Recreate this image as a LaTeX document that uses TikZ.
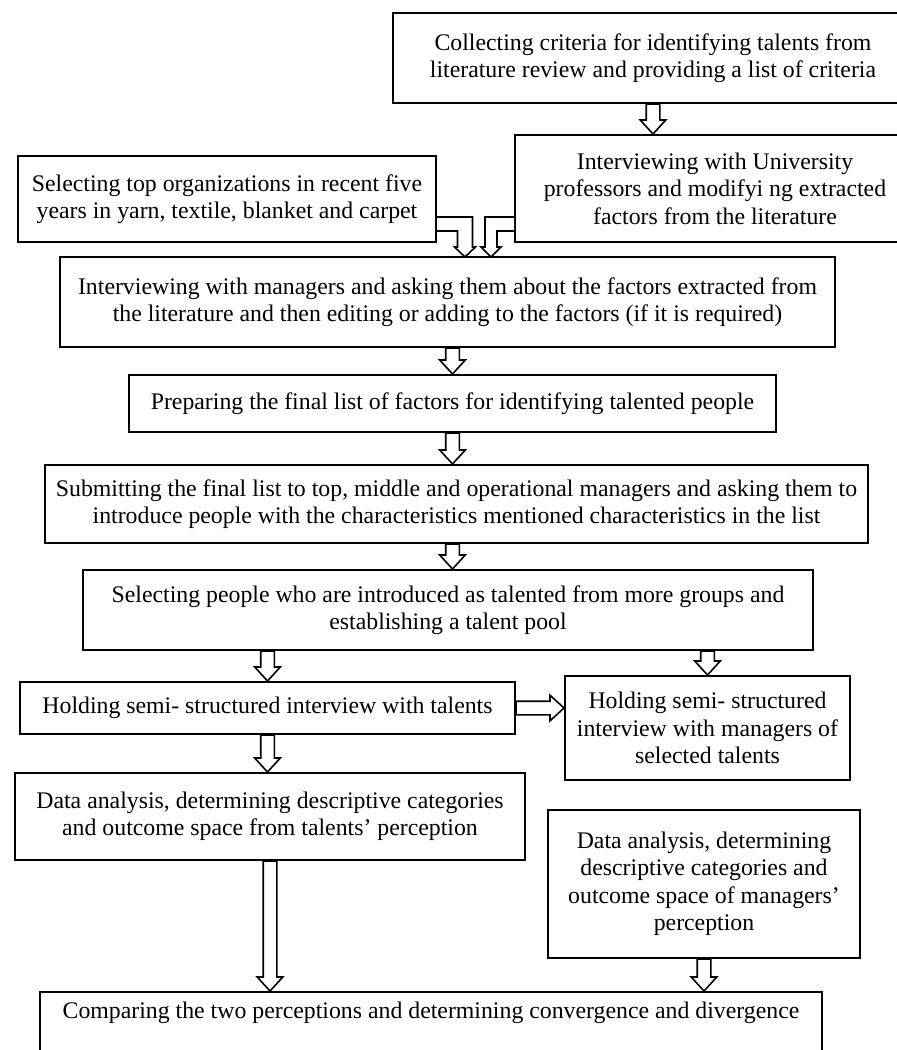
\documentclass[tikz,border=0pt]{standalone}
\usepackage{fontspec}
\setmainfont{Liberation Serif}
\usetikzlibrary{calc,positioning}

\tikzset{
  stage/.style={draw, line width=1pt, align=center, inner sep=0pt,
    font=\fontsize{11.9}{13.75}\selectfont},
  hollow/.style={draw, line width=.8pt, line join=miter, fill=white},
  harrow/.style={to path={
    let \p1=(\tikztostart), \p2=(\tikztotarget),
        \n1={atan2(\y2-\y1,\x2-\x1)}, \n2={veclen(\x2-\x1,\y2-\y1)-7}
    in {[shift={(\p1)}, rotate=\n1]
      (0pt,3.4pt) -- (\n2,3.4pt) -- (\n2,6.4pt) -- (\n2+7pt,0pt)
      -- (\n2,-6.4pt) -- (\n2,-3.4pt) -- (0pt,-3.4pt) -- cycle}
  }}
}

\begin{document}
\begin{tikzpicture}[x=0.5pt, y=-0.5pt]
  \useasboundingbox (0,0) rectangle (897,1050);

  \node[stage, minimum width=260pt, minimum height=45pt] (crit) at (653,58)
    {Collecting criteria for identifying talents from\\literature review and providing a list of criteria};
  \node[stage, minimum width=200pt, minimum height=53.5pt] (prof) at (715,188.5)
    {Interviewing with University\\professors and modifyi ng extracted\\factors from the literature};
  \node[stage, minimum width=209pt, minimum height=43pt] (orgs) at (227,199)
    {Selecting top organizations in recent five\\years in yarn, textile, blanket and carpet};
  \node[stage, minimum width=387.5pt, minimum height=45pt] (mgrs) at (447.5,302)
    {Interviewing with managers and asking them about the factors extracted from\\the literature and then editing or adding to the factors (if it is required)};
  \node[stage, minimum width=323.5pt, minimum height=28.5pt] (final) at (452.5,403.5)
    {Preparing the final list of factors for identifying talented people};
  \node[stage, minimum width=411.5pt, minimum height=39pt] (submit) at (456.5,504)
    {Submitting the final list to top, middle and operational managers and asking them to\\introduce people with the characteristics mentioned characteristics in the list};
  \node[stage, minimum width=365pt, minimum height=40pt] (pool) at (448,610)
    {Selecting people who are introduced as talented from more groups and\\establishing a talent pool};
  \node[stage, minimum width=247.5pt, minimum height=26pt] (intT) at (267.5,708)
    {Holding semi- structured interview with talents};
  \node[stage, minimum width=142.5pt, minimum height=52pt] (intM) at (707.5,728)
    {Holding semi- structured\\interview with managers of\\selected talents};
  \node[stage, minimum width=255pt, minimum height=43.5pt] (anaT) at (270,816.5)
    {Data analysis, determining descriptive categories\\and outcome space from talents' perception};
  \node[stage, minimum width=156pt, minimum height=74pt] (anaM) at (704,884)
    {Data analysis, determining\\descriptive categories and\\outcome space of managers'\\perception};
  \node[stage, anchor=base, minimum width=391pt, text height=13pt, text depth=27pt] (comp) at (431,1018)
    {Comparing the two perceptions and determining convergence and divergence};

  % straight arrows
  \draw[hollow] (crit.south) to[harrow] (crit.south |- prof.north);
  \draw[hollow] (mgrs.south -| final.north) to[harrow] (final.north);
  \draw[hollow] (final.south) to[harrow] (final.south |- submit.north);
  \draw[hollow] (submit.south -| final.south) to[harrow] (pool.north -| final.south);
  \draw[hollow] (pool.south -| intT.north) to[harrow] (intT.north);
  \draw[hollow] (pool.south -| intM.north) to[harrow] (intM.north);
  \draw[hollow] (intT.east) to[harrow] (intM.west |- intT.east);
  \draw[hollow] (intT.south) to[harrow] (anaT.north -| intT.south);
  \draw[hollow] (anaT.south) to[harrow] (comp.north -| anaT.south);
  \draw[hollow] (anaM.south) to[harrow] (comp.north -| anaM.south);

  % bent arrows into the managers' interview
  \draw[hollow] ($(orgs.east)+(0,18)$) -- (472.5,217) -- (472.5,247) -- (475.5,247)
    -- (465,257) -- (454.5,247) -- (457.5,247) -- (457.5,231) -- ($(orgs.east)+(0,32)$);
  \draw[hollow] ($(prof.west)+(0,28.5)$) -- (485,217) -- (485,247) -- (481,247)
    -- (491,257) -- (501,247) -- (497,247) -- (497,231) -- ($(prof.west)+(0,42.5)$);
\end{tikzpicture}
\end{document}
